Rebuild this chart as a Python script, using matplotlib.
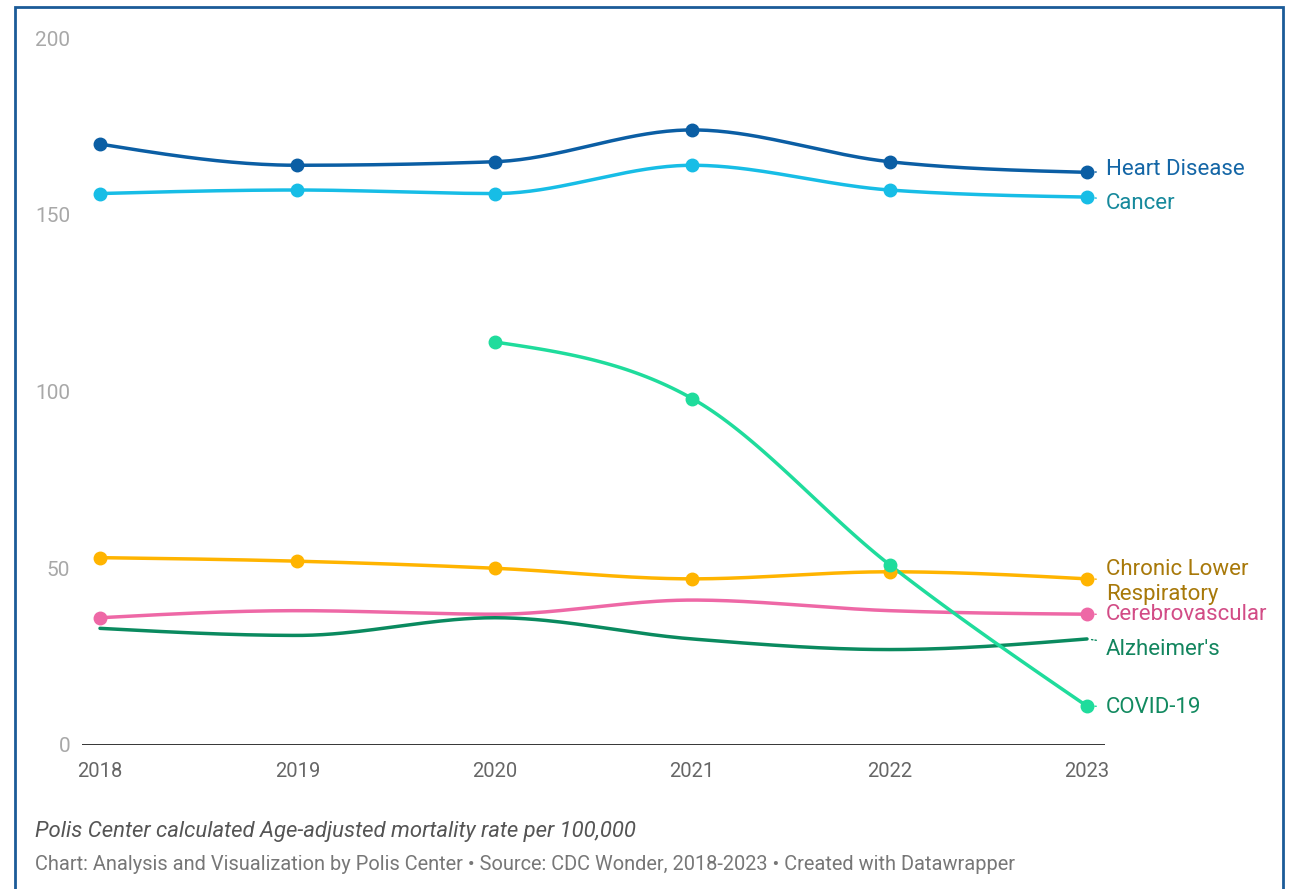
import numpy as np
import matplotlib.pyplot as plt
from matplotlib.patches import Rectangle

years = [2018, 2019, 2020, 2021, 2022, 2023]

heart = [170, 164, 165, 174, 165, 162]
cancer = [156, 157, 156, 164, 157, 155]
covid_years = [2020, 2021, 2022, 2023]
covid = [114, 98, 51, 11]
chronic_resp = [53, 52, 50, 47, 49, 47]
cerebro = [36, 38, 37, 41, 38, 37]
alzheimers = [33, 31, 36, 30, 27, 30]

y_ticks = [0, 50, 100, 150, 200]

FONT = ['Roboto', 'DejaVu Sans']


def monotone_x(xs, ys, n=40):
    """d3-style curveMonotoneX through the points."""
    x = np.asarray(xs, float)
    y = np.asarray(ys, float)
    h = np.diff(x)
    s = np.diff(y) / h
    t = np.zeros_like(y)
    for i in range(1, len(x) - 1):
        p = (s[i - 1] * h[i] + s[i] * h[i - 1]) / (h[i - 1] + h[i])
        t[i] = (np.sign(s[i - 1]) + np.sign(s[i])) * min(abs(s[i - 1]), abs(s[i]), 0.5 * abs(p))
    t[0] = (3 * s[0] - t[1]) / 2 if len(x) > 2 else s[0]
    t[-1] = (3 * s[-1] - t[-2]) / 2 if len(x) > 2 else s[-1]
    out_x, out_y = [], []
    for i in range(len(x) - 1):
        u = np.linspace(0, 1, n)
        h00 = 2 * u**3 - 3 * u**2 + 1
        h10 = u**3 - 2 * u**2 + u
        h01 = -2 * u**3 + 3 * u**2
        h11 = u**3 - u**2
        out_x.extend(x[i] + u * h[i])
        out_y.extend(h00 * y[i] + h10 * h[i] * t[i] + h01 * y[i + 1] + h11 * h[i] * t[i + 1])
    return np.array(out_x), np.array(out_y)


# name, x, y, line colour, label colour, marker indexes, label y
series = [
    ('Heart Disease', years, heart, '#0b5ea4', '#1466a6', 'all', 162.9),
    ('Cancer', years, cancer, '#17bde6', '#16899c', 'all', 153.3),
    ('Chronic Lower\nRespiratory', years, chronic_resp, '#ffb400', '#a8790a', 'all', 46.1),
    ('Cerebrovascular', years, cerebro, '#ee68a6', '#d24c86', [0, 5], 36.8),
    ("Alzheimer's", years, alzheimers, '#0a8a5f', '#12855e', [], 26.9),
    ('COVID-19', covid_years, covid, '#1fdc9c', '#128a60', 'all', 10.7),
]

W, H = 1294, 889
fig = plt.figure(figsize=(W / 100, H / 100), dpi=100)
ax = fig.add_axes([82 / W, 144 / H, (1105 - 82) / W, (745 - 38) / H])

step = (1087 - 100) / 5
ax.set_xlim(2018 - 18 / step, 2023 + 18 / step)
ax.set_ylim(0, 200)

for name, xs, ys, col, lcol, marks, ly in series:
    cx, cy = monotone_x(xs, ys)
    ax.plot(cx, cy, color=col, lw=2.5, solid_capstyle='round', zorder=3, clip_on=False)
    idx = range(len(xs)) if marks == 'all' else marks
    mx = [xs[i] for i in idx]
    my = [ys[i] for i in idx]
    ax.plot(mx, my, 'o', color=col, ms=9, zorder=4, clip_on=False)
    ax.annotate(name, xy=(xs[-1], ys[-1]), xytext=(2023 + 19 / step, ly),
                textcoords='data', va='center', ha='left', fontsize=16,
                color=lcol, family=FONT, linespacing=1.2, annotation_clip=False,
                arrowprops=dict(arrowstyle='-', color=col, lw=1, ls=(0, (1, 1.5)),
                                shrinkA=5, shrinkB=2))

# baseline
ax.axhline(0, color='#222222', lw=2, zorder=2)

for side in ['top', 'right', 'left', 'bottom']:
    ax.spines[side].set_visible(False)
ax.tick_params(length=0)
ax.set_yticks(y_ticks)
ax.set_yticklabels([str(v) for v in y_ticks], color='#a8a8a8', fontsize=15, family=FONT)
ax.tick_params(axis='y', pad=8.5)
ax.set_xticks(years)
ax.set_xticklabels([str(y) for y in years], color='#666666', fontsize=14.5, family=FONT)
ax.tick_params(axis='x', pad=12)

fig.text(35 / W, 1 - 832 / H, 'Polis Center calculated Age-adjusted mortality rate per 100,000',
         fontsize=15.9, style='italic', color='#555555', family=FONT, va='center')
fig.text(35 / W, 1 - 865 / H,
         'Chart: Analysis and Visualization by Polis Center \u2022 Source: CDC Wonder, 2018-2023 \u2022 Created with Datawrapper',
         fontsize=14.4, color='#777777', family=FONT, va='center')

# outer frame
fig.patches.append(Rectangle((15 / W, -0.02), (1283 - 15) / W, 1 - 7 / H + 0.02,
                             transform=fig.transFigure, fill=False,
                             edgecolor='#1b5b98', lw=2))

fig.savefig('out.png', dpi=100, facecolor='white')
